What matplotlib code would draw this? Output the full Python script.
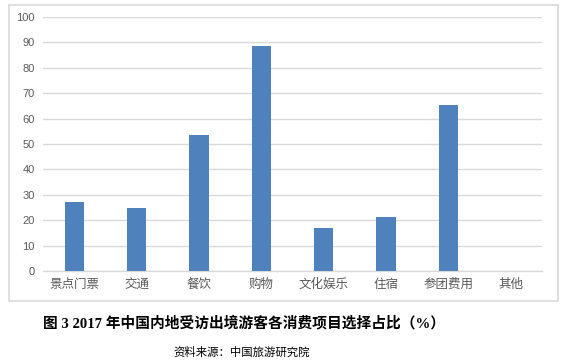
import matplotlib
matplotlib.use("Agg")
import matplotlib.pyplot as plt
from matplotlib.patches import Rectangle

categories = ["景点门票", "交通", "餐饮", "购物", "文化娱乐", "住宿", "参团费用", "其他"]
values = [27.2, 24.8, 53.5, 88.6, 16.9, 21.3, 65.4, 0]
yticks = [0, 10, 20, 30, 40, 50, 60, 70, 80, 90, 100]
title = "图 3 2017 年中国内地受访出境游客各消费项目选择占比（%）"
source = "资料来源：中国旅游研究院"

plt.rcParams['font.family'] = ['Noto Sans CJK SC', 'DejaVu Sans']

W, H = 569, 363
fig = plt.figure(figsize=(W / 100, H / 100), dpi=100)

# outer chart border
fig.patches.append(Rectangle((9 / W, 1 - 301 / H), (558 - 9) / W, (301 - 5) / H,
                             transform=fig.transFigure, fill=False,
                             edgecolor="#d9d9d9", linewidth=1.2))

ax = fig.add_axes([43 / W, 1 - 271 / H, (542 - 43) / W, (271 - 16.9) / H])
x = range(len(categories))
ax.bar(x, values, width=0.31, color="#4f81bd", zorder=3)
ax.set_xlim(-0.5, len(categories) - 0.5)
ax.set_ylim(0, 100)
ax.set_yticks(yticks)
ax.set_yticklabels([str(t) for t in yticks], fontsize=8, color="#595959",
                   family=['Liberation Sans', 'DejaVu Sans'])
ax.set_xticks(list(x))
ax.set_xticklabels(categories, fontsize=9, color="#595959")
ax.tick_params(axis='both', length=0)
ax.tick_params(axis='y', pad=6)
ax.tick_params(axis='x', pad=5)
ax.grid(axis='y', color="#d9d9d9", linewidth=1, zorder=0)
for s in ["top", "right", "left"]:
    ax.spines[s].set_visible(False)
ax.spines["bottom"].set_color("#d9d9d9")
ax.spines["bottom"].set_linewidth(1)

fig.text(244 / W, 1 - 323 / H, title, ha="center", va="center", fontsize=10.6,
         fontweight="bold", family=['Liberation Serif', 'Noto Sans CJK SC'], color="#000000")
fig.text(242 / W, 1 - 352 / H, source, ha="center", va="center", fontsize=8.2,
         color="#000000")

fig.savefig("out.png", dpi=100)
